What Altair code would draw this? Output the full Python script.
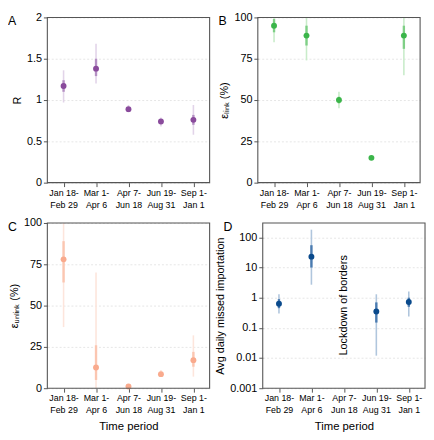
import altair as alt
import pandas as pd

periods = ["Jan 18-\nFeb 29", "Mar 1-\nApr 6", "Apr 7-\nJun 18", "Jun 19-\nAug 31", "Sep 1-\nJan 1"]

# Panel A: R
r_mid = [1.17, 1.38, 0.89, 0.74, 0.76]
r_lo95 = [0.97, 1.20, 0.85, 0.68, 0.58]
r_hi95 = [1.36, 1.68, 0.94, 0.79, 0.94]
r_lo50 = [1.10, 1.29, 0.87, 0.72, 0.70]
r_hi50 = [1.24, 1.50, 0.91, 0.76, 0.82]

# Panel B: epsilon link (%)
b_mid = [95, 89, 50, 15, 89]
b_lo95 = [85, 74, 45, 14, 65]
b_hi95 = [100, 100, 55, 16, 100]
b_lo50 = [91, 83, 48, 14.5, 81]
b_hi50 = [99, 95, 52, 15.5, 95]

# Panel C: epsilon unlink (%)
c_mid = [78, 12.5, 1, 8.5, 17]
c_lo95 = [37, 0, 0, 7, 7]
c_hi95 = [100, 70, 2.5, 11, 32]
c_lo50 = [64, 5, 0, 8, 13]
c_hi50 = [89, 26, 1.5, 9.5, 22]

# Panel D: avg daily missed importation
d_mid = [0.63, 23, None, 0.35, 0.72]
d_lo95 = [0.30, 2.7, None, 0.012, 0.24]
d_hi95 = [1.3, 180, None, 1.3, 1.6]
d_lo50 = [0.45, 10, None, 0.15, 0.50]
d_hi50 = [0.90, 55, None, 0.70, 1.0]

FONT = "Liberation Sans"
W, H = 165, 168


def panel(mid, lo95, hi95, lo50, hi50, color, light, medium, ytitle, yscale, yvalues,
          yformat, letter, xtitle, extra=None):
    df = pd.DataFrame({"period": periods, "mid": mid, "lo95": lo95, "hi95": hi95,
                       "lo50": lo50, "hi50": hi50})
    xaxis = alt.Axis(title=xtitle, labelAngle=0, labelExpr="split(datum.label, '\\n')",
                     labelFontSize=9, labelLineHeight=12, titleFontSize=11.5,
                     titlePadding=6, grid=False)
    x = alt.X("period:N", sort=periods,
              scale=alt.Scale(domain=periods, type="point", padding=0.5), axis=xaxis)
    yaxis = alt.Axis(title=ytitle, values=yvalues, format=yformat, labelFontSize=11,
                     titleFontSize=11, grid=True)
    base = alt.Chart(df).encode(x=x)
    r95 = base.mark_rule(color=light, strokeWidth=1.6).encode(
        y=alt.Y("lo95:Q", scale=yscale, axis=yaxis), y2="hi95:Q")
    r50 = base.mark_rule(color=medium, strokeWidth=2.4).encode(
        y=alt.Y("lo50:Q", scale=yscale, axis=yaxis), y2="hi50:Q")
    pt = base.mark_circle(color=color, size=36, opacity=1).encode(
        y=alt.Y("mid:Q", scale=yscale, axis=yaxis))
    frame = alt.Chart(pd.DataFrame({"t": [letter]})).mark_rect(
        fill=None, stroke="#555555", strokeWidth=1.1).encode(
        x=alt.value(0), x2=alt.value(W), y=alt.value(0), y2=alt.value(H))
    lab = alt.Chart(pd.DataFrame({"t": [letter]})).mark_text(
        fontSize=12.5, align="left", baseline="middle", font=FONT).encode(
        x=alt.value(-40), y=alt.value(4), text="t:N")
    layers = [r95, r50, pt, frame, lab]
    if extra is not None:
        layers.append(extra)
    return alt.layer(*layers).properties(width=W, height=H)


A = panel(r_mid, r_lo95, r_hi95, r_lo50, r_hi50, "#8a4b9c", "#e2d4e9", "#b48fc3", "R",
          alt.Scale(domain=[0, 2], nice=False), [0, 0.5, 1, 1.5, 2], "~g", "A", None)
B = panel(b_mid, b_lo95, b_hi95, b_lo50, b_hi50, "#3bb54a", "#c9ecca", "#7fcf86",
          "εₗᵢₙₖ (%)", alt.Scale(domain=[0, 100], nice=False), [0, 25, 50, 75, 100], "d",
          "B", None)
C = panel(c_mid, c_lo95, c_hi95, c_lo50, c_hi50, "#f9aa8d", "#fde5dc", "#fbc6b1",
          "εᵤₙₗᵢₙₖ (%)", alt.Scale(domain=[0, 100], nice=False), [0, 25, 50, 75, 100], "d",
          "C", "Time period")

ann = pd.DataFrame({"period": [periods[2]], "y": [0.56], "t": ["Lockdown of borders"]})
lock = alt.Chart(ann).mark_text(angle=270, fontSize=11, font=FONT, color="black").encode(
    x=alt.X("period:N", sort=periods,
            scale=alt.Scale(domain=periods, type="point", padding=0.5)),
    y=alt.Y("y:Q", scale=alt.Scale(type="log", domain=[0.001, 300], nice=False)),
    text="t:N")

D = panel(d_mid, d_lo95, d_hi95, d_lo50, d_hi50, "#0a4a8c", "#b0c6dd", "#4a7bb0",
          "Avg daily missed importation",
          alt.Scale(type="log", domain=[0.001, 300], nice=False),
          [0.001, 0.01, 0.1, 1, 10, 100], "~g", "D", "Time period", extra=lock)

chart = alt.vconcat(
    alt.hconcat(A, B, spacing=8),
    alt.hconcat(C, D, spacing=4),
    spacing=8,
).properties(padding=0).configure_view(
    strokeWidth=0
).configure_axis(
    domain=False, tickColor="#555555", tickSize=4, labelFont=FONT, titleFont=FONT,
    labelColor="black", titleColor="black", titleFontWeight="normal",
    gridColor="#e6e6e6", gridDash=[2, 2], labelPadding=2, titlePadding=4
)

chart.save("out.html", embed_options={"renderer": "svg", "actions": False})
